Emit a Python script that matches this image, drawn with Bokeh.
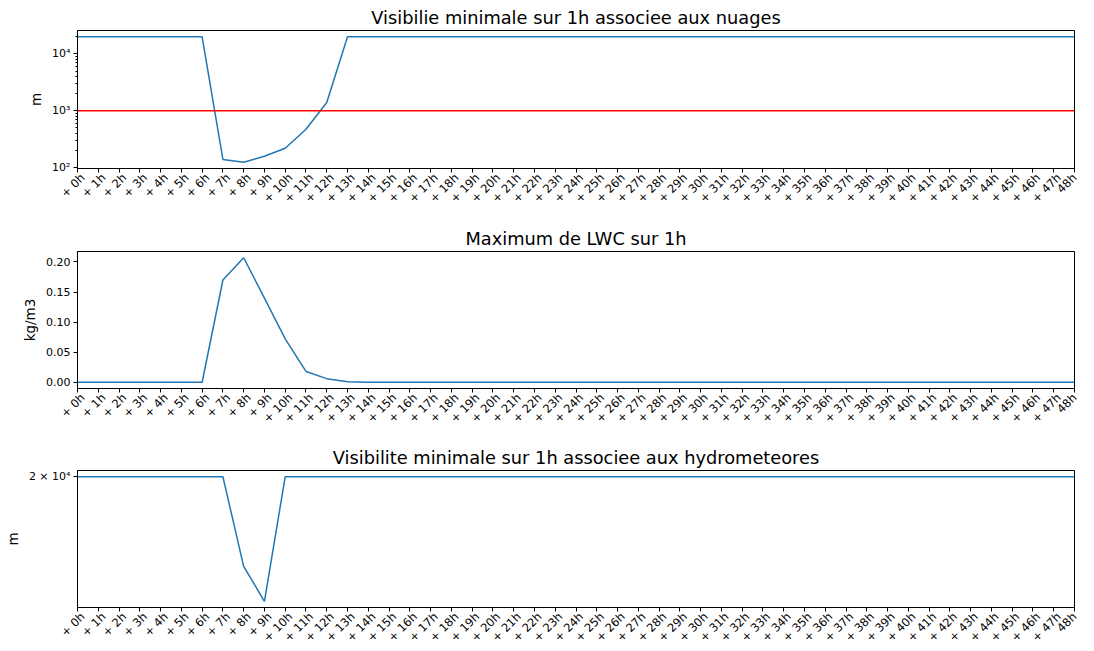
import math
from bokeh.plotting import figure
from bokeh.layouts import column
from bokeh.models import (Range1d, FixedTicker, Span, PrintfTickFormatter,
                          LinearAxis)
from bokeh.embed import file_html
from bokeh.resources import INLINE

# ---------------- data ----------------
hours = list(range(49))
hour_labels = ["+ %dh" % h for h in hours[:-1]] + ["48h"]

vis_nuages = [20000] * 7 + [140, 125, 159, 220, 475, 1400] + [20000] * 36
seuil_visi = 1000

lwc = [0.0] * 7 + [0.170, 0.207, 0.140, 0.072, 0.018, 0.006, 0.001] + [0.0] * 35

vis_hydro = [20000] * 8 + [13850, 12000] + [20000] * 39

titles = [
    "Visibilie minimale sur 1h associee aux nuages",
    "Maximum de LWC sur 1h",
    "Visibilite minimale sur 1h associee aux hydrometeores",
]
ylabels = ["m", "kg/m3", "m"]

lwc_ticks = [0.0, 0.05, 0.10, 0.15, 0.20]
log1_major = [100, 1000, 10000]
log1_minor = [m * d for d in (100, 1000, 10000) for m in range(2, 10)]
log3_ticks = [20000]

FONT = "DejaVu Sans"
BLUE = "#1f77b4"
XLAB_SIZE = "11.5px"
LABEL_SHIFT = 0.25   # hours: rotated labels sit a little right of their tick


def style(p, ylabel):
    p.title.text_font = FONT
    p.title.text_font_size = "17.8px"
    p.title.text_font_style = "normal"
    p.title.align = "center"
    p.title.text_color = "black"
    p.title.standoff = 5
    p.outline_line_color = "black"
    p.outline_line_alpha = 1.0
    p.outline_line_width = 1
    p.xgrid.visible = False
    p.ygrid.visible = False
    for ax in (p.xaxis[0], p.yaxis[0]):
        ax.axis_line_color = "black"
        ax.major_tick_line_color = "black"
        ax.minor_tick_line_color = "black"
        ax.major_tick_in = 0
        ax.major_tick_out = 4
        ax.minor_tick_in = 0
        ax.minor_tick_out = 2
        ax.major_label_text_font = FONT
        ax.major_label_text_font_size = "11px"
        ax.major_label_text_color = "black"
        ax.major_label_standoff = 3
        ax.axis_label_text_font = FONT
        ax.axis_label_text_font_size = "13.5px"
        ax.axis_label_text_font_style = "normal"
        ax.axis_label_text_color = "black"
        ax.axis_label_standoff = 5
    p.yaxis[0].axis_label = ylabel
    # axis carrying the tick marks only
    xa = p.xaxis[0]
    xa.ticker = FixedTicker(ticks=hours, minor_ticks=[])
    xa.major_label_overrides = {h: "" for h in hours}
    xa.major_label_text_font_size = "1px"
    xa.major_label_standoff = 0
    # axis carrying the rotated hour labels (last one held at the frame edge)
    end = hours[-1] - LABEL_SHIFT
    lab_ticks = hours[:-1] + [end]
    p.extra_x_ranges = {"lab": Range1d(-LABEL_SHIFT, end)}
    lab = LinearAxis(x_range_name="lab",
                     ticker=FixedTicker(ticks=lab_ticks, minor_ticks=[]),
                     major_label_overrides={t: s for t, s in zip(lab_ticks, hour_labels)},
                     major_label_orientation=math.pi / 4,
                     major_label_standoff=3,
                     major_label_text_font=FONT,
                     major_label_text_font_size=XLAB_SIZE,
                     major_label_text_color="black",
                     axis_line_color=None, major_tick_line_color=None,
                     minor_tick_line_color=None, major_tick_out=0, major_tick_in=0)
    p.add_layout(lab, "below")


def make_fig(title, fh, y_type, y_range, bottom):
    p = figure(frame_width=997, frame_height=fh, y_axis_type=y_type,
               x_range=Range1d(0, 48), y_range=y_range,
               output_backend="svg", toolbar_location=None, title=title,
               min_border_left=77, min_border_right=17,
               min_border_top=30, min_border_bottom=bottom)
    return p


# ---- figure 1 ----
p1 = make_fig(titles[0], 138, "log", Range1d(97, 25770), 53)
p1.line(hours, vis_nuages, line_color=BLUE, line_width=1.5)
p1.add_layout(Span(location=seuil_visi, dimension="width",
                   line_color="red", line_width=1.5))
style(p1, ylabels[0])
p1.yaxis[0].ticker = FixedTicker(ticks=log1_major, minor_ticks=log1_minor)
p1.yaxis[0].major_label_overrides = {100: "10²", 1000: "10³", 10000: "10⁴"}

# ---- figure 2 ----
p2 = make_fig(titles[1], 137, "linear", Range1d(-0.0104, 0.2174), 52)
p2.line(hours, lwc, line_color=BLUE, line_width=1.5)
style(p2, ylabels[1])
p2.yaxis[0].ticker = FixedTicker(ticks=lwc_ticks, minor_ticks=[])
p2.yaxis[0].formatter = PrintfTickFormatter(format="%.2f")

# ---- figure 3 ----
lo = math.log10(min(vis_hydro))
hi = math.log10(max(vis_hydro))
L = hi - lo
p3 = make_fig(titles[2], 137, "log",
              Range1d(10 ** (lo - 0.05 * L), 10 ** (hi + 0.05 * L)), 44)
p3.line(hours, vis_hydro, line_color=BLUE, line_width=1.5)
style(p3, ylabels[2])
p3.yaxis[0].ticker = FixedTicker(ticks=log3_ticks, minor_ticks=[])
p3.yaxis[0].major_label_overrides = {20000: "2 × 10⁴"}

layout = column(p1, p2, p3, spacing=0)
open("out.html", "w").write(file_html(layout, INLINE))
